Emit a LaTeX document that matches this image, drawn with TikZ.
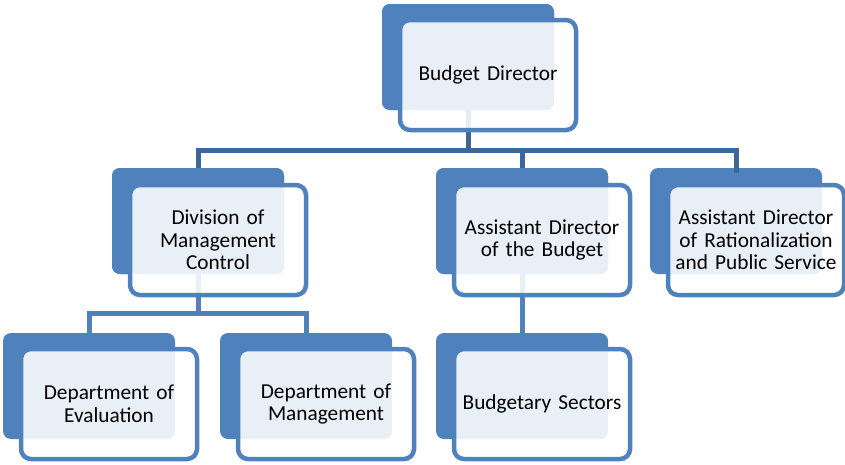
\documentclass[tikz,border=0pt]{standalone}
\usepackage{fontspec}
\setmainfont{Carlito}
\definecolor{boxblue}{RGB}{79,129,189}
\definecolor{lineblue}{RGB}{60,103,152}
\tikzset{
  backbox/.style={draw=none, fill=boxblue, rounded corners=8pt, minimum width=172pt, minimum height=106pt, inner sep=0pt, outer sep=0pt},
  frontbox/.style={draw=boxblue, line width=4.5pt, fill=white, fill opacity=0.88, text opacity=1, rounded corners=10pt, minimum width=176pt, minimum height=110pt, inner sep=0pt, outer sep=0pt, text width=174pt, align=center, font=\fontsize{21.3pt}{22.5pt}\selectfont},
  connA/.style={draw=lineblue, line width=5pt},
  connB/.style={draw=boxblue, line width=5pt}
}
\begin{document}
\begin{tikzpicture}[x=1pt,y=-1pt]
\useasboundingbox (0,0) rectangle (845,464);
% back boxes
\node[backbox] (bdB) at (468,57) {};
\node[backbox] (divB) at (198,221) {};
\node[backbox] (asbB) at (522,221) {};
\node[backbox] (ratB) at (736,221) {};
\node[backbox] (evaB) at (89,386) {};
\node[backbox] (mgtB) at (306,386) {};
\node[backbox] (secB) at (522,386) {};
% bus coordinates
\coordinate (bus1) at (0,150);
\coordinate (bus2) at (0,313);
% connectors
\draw[connA] (bdB.center) -- (bdB.center |- bus1);
\draw[connA] ([yshift=-5pt]divB.north) -- (divB.north |- bus1) -- (ratB.north |- bus1) -- ([yshift=-5pt]ratB.north);
\draw[connA] (asbB.north |- bus1) -- ([yshift=-5pt]asbB.north);
\draw[connB] (divB.center) -- (divB.center |- bus2);
\draw[connB] ([yshift=-5pt]evaB.north) -- (evaB.north |- bus2) -- (mgtB.north |- bus2) -- ([yshift=-5pt]mgtB.north);
\draw[connB] (asbB.center) -- ([yshift=-5pt]secB.north);
% redraw back boxes over connector starts
\node[backbox] at (bdB.center) {};
\node[backbox] at (divB.center) {};
\node[backbox] at (asbB.center) {};
% front boxes
\node[frontbox] (bdF) at (488,75) {Budget Director};
\node[frontbox] (divF) at (218,240) {Division of\\Management\\Control};
\node[frontbox] (asbF) at (542,240) {Assistant Director\\of the Budget};
\node[frontbox] (ratF) at (756,240) {Assistant Director\\of Rationalization\\and Public Service};
\node[frontbox] (evaF) at (109,404) {Department of\\Evaluation};
\node[frontbox] (mgtF) at (326,404) {Department of\\Management};
\node[frontbox] (secF) at (542,404) {Budgetary Sectors};
\end{tikzpicture}
\end{document}
